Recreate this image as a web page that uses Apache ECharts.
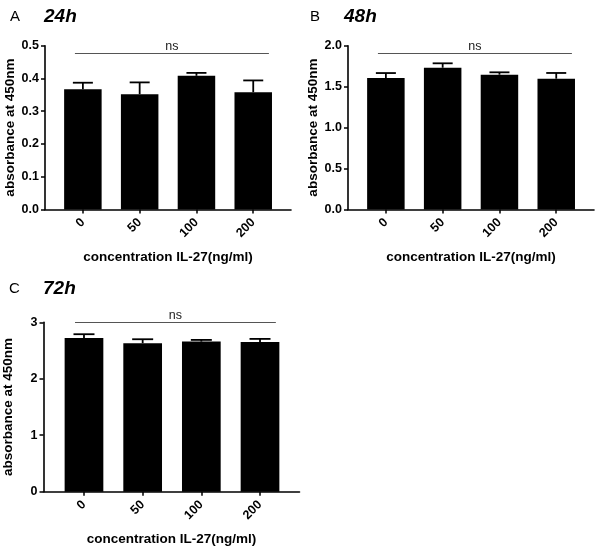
<!DOCTYPE html>
<html><head><meta charset="utf-8">
<script src="https://cdn.jsdelivr.net/npm/echarts@6/dist/echarts.min.js"></script>
<style>html,body{margin:0;padding:0;background:#fff}#c{width:600px;height:554px}</style>
</head><body><div id="c"></div>
<script>
// ---- data ----
const categories = ['0', '50', '100', '200'];
const mean24 = [0.367, 0.352, 0.408, 0.358];
const err24  = [0.020, 0.036, 0.009, 0.036];
const mean48 = [1.605, 1.731, 1.646, 1.597];
const err48  = [0.061, 0.054, 0.029, 0.070];
const mean72 = [2.724, 2.630, 2.658, 2.653];
const err72  = [0.065, 0.070, 0.030, 0.053];
const panelLetters = ['A', 'B', 'C'];
const panelTitles = ['24h', '48h', '72h'];
const sigLabel = 'ns';
const yTitle = 'absorbance at 450nm';
const xTitle = 'concentration IL-27(ng/ml)';

const FONT = '"Liberation Sans", Arial, sans-serif';
const chart = echarts.init(document.getElementById('c'));

const panels = [
  {mean: mean24, err: err24, grid: {left: 45, top: 45.7, width: 246, height: 163.8},
   xmin: -0.667, xmax: 3.665, ymax: 0.5, yint: 0.1, dec: 1, barW: 37.5, capW: 20,
   ns: {x0: -0.14, x1: 3.276, y: 0.4756}},
  {mean: mean48, err: err48, grid: {left: 348, top: 45.7, width: 246, height: 163.8},
   xmin: -0.667, xmax: 3.665, ymax: 2.0, yint: 0.5, dec: 1, barW: 37.5, capW: 20,
   ns: {x0: -0.14, x1: 3.276, y: 1.902}},
  {mean: mean72, err: err72, grid: {left: 43.5, top: 322.3, width: 256, height: 169.4},
   xmin: -0.69, xmax: 3.673, ymax: 3, yint: 1, dec: 0, barW: 38.7, capW: 21,
   ns: {x0: -0.153, x1: 3.27, y: 2.993}}
];

const grids = [], xAxes = [], yAxes = [], series = [], titles = [];
const titlePos = [
  {l: [5, 4], t: [39, 2]},
  {l: [305, 4], t: [339, 2]},
  {l: [4, 276], t: [38, 274]}
];

panels.forEach((p, i) => {
  grids.push(p.grid);
  xAxes.push({
    gridIndex: i, type: 'value', min: p.xmin, max: p.xmax,
    name: xTitle, nameLocation: 'middle', nameGap: 41,
    nameTextStyle: {fontFamily: FONT, fontWeight: 'bold', fontSize: 13.5, color: '#000'},
    axisLine: {show: true, onZero: false, lineStyle: {color: '#000', width: 1.6}},
    axisTick: {show: true, customValues: [0, 1, 2, 3], length: 4, lineStyle: {color: '#000', width: 1.5}},
    axisLabel: {customValues: [0, 1, 2, 3], rotate: 45, margin: 11,
      formatter: v => categories[Math.round(v)],
      fontFamily: FONT, fontWeight: 'bold', fontSize: 12.5, color: '#000'},
    splitLine: {show: false}
  });
  yAxes.push({
    gridIndex: i, type: 'value', min: 0, max: p.ymax, interval: p.yint,
    name: yTitle, nameLocation: 'middle', nameGap: 28,
    nameTextStyle: {fontFamily: FONT, fontWeight: 'bold', fontSize: 13.5, color: '#000'},
    axisLine: {show: true, onZero: false, lineStyle: {color: '#000', width: 1.6}},
    axisTick: {show: true, length: 4, lineStyle: {color: '#000', width: 1.5}},
    axisLabel: {margin: 6, formatter: v => v.toFixed(p.dec),
      fontFamily: FONT, fontWeight: 'bold', fontSize: 12.5, color: '#000'},
    splitLine: {show: false}
  });
  series.push({
    type: 'bar', xAxisIndex: i, yAxisIndex: i, barWidth: p.barW,
    data: p.mean.map((m, k) => [k, m]),
    itemStyle: {color: '#000'},
    markLine: {
      silent: true, symbol: 'none',
      lineStyle: {color: '#555', width: 1.2, type: 'solid'},
      label: {show: true, position: 'insideMiddleTop', formatter: sigLabel, distance: 1,
        fontFamily: FONT, fontSize: 12.5, color: '#222'},
      data: [[{coord: [p.ns.x0, p.ns.y]}, {coord: [p.ns.x1, p.ns.y]}]]
    }
  });
  series.push({
    type: 'custom', xAxisIndex: i, yAxisIndex: i, z: 5,
    data: p.mean.map((m, k) => [k, m, m + p.err[k]]),
    renderItem: (params, api) => {
      const b = api.coord([api.value(0), api.value(1)]);
      const t = api.coord([api.value(0), api.value(2)]);
      const hw = p.capW / 2;
      return {type: 'group', children: [
        {type: 'line', shape: {x1: b[0], y1: b[1], x2: t[0], y2: t[1]}, style: {stroke: '#000', lineWidth: 1.8}},
        {type: 'line', shape: {x1: t[0] - hw, y1: t[1], x2: t[0] + hw, y2: t[1]}, style: {stroke: '#000', lineWidth: 1.8}}
      ]};
    }
  });
  titles.push({text: panelLetters[i], left: titlePos[i].l[0], top: titlePos[i].l[1],
    textStyle: {fontFamily: FONT, fontWeight: 'normal', fontSize: 15, color: '#000'}});
  titles.push({text: panelTitles[i], left: titlePos[i].t[0], top: titlePos[i].t[1],
    textStyle: {fontFamily: FONT, fontWeight: 'bold', fontStyle: 'italic', fontSize: 19, color: '#000'}});
});

chart.setOption({
  animation: false,
  backgroundColor: '#fff',
  title: titles,
  grid: grids, xAxis: xAxes, yAxis: yAxes, series: series
});
</script></body></html>
